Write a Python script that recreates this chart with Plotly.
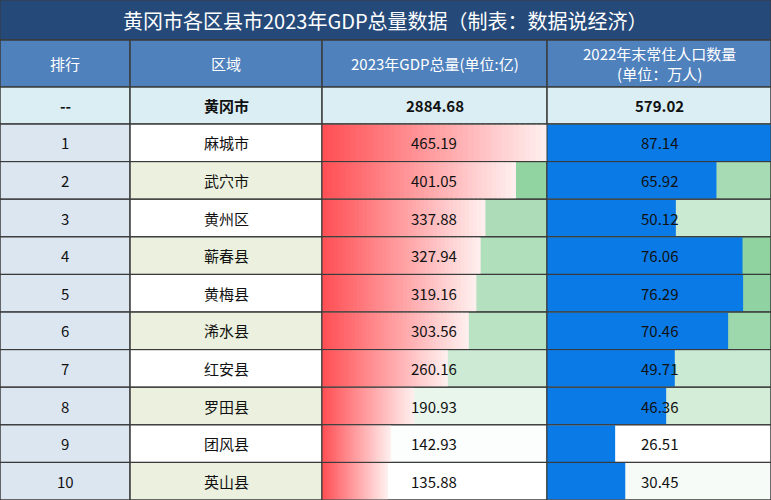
import plotly.graph_objects as go

title = "黄冈市各区县市2023年GDP总量数据（制表：数据说经济）"
headers = ["排行", "区域", "2023年GDP总量(单位:亿)", "2022年末常住人口数量<br>(单位：万人)"]
total = ["--", "黄冈市", "2884.68", "579.02"]
ranks = ["1", "2", "3", "4", "5", "6", "7", "8", "9", "10"]
regions = ["麻城市", "武穴市", "黄州区", "蕲春县", "黄梅县", "浠水县", "红安县", "罗田县", "团风县", "英山县"]
gdp = [465.19, 401.05, 337.88, 327.94, 319.16, 303.56, 260.16, 190.93, 142.93, 135.88]
pop = [87.14, 65.92, 50.12, 76.06, 76.29, 70.46, 49.71, 46.36, 26.51, 30.45]

cols = [0, 130, 322, 547, 771]
row_top = 124
row_h = (500 - 124) / 10
font = "Noto Sans CJK SC"
border = "#3a3a3a"

shapes = []
ann = []

def rect(x0, y0, x1, y1, fill, line=True):
    shapes.append(dict(type="rect", xref="x", yref="y", x0=x0, y0=y0, x1=x1, y1=y1,
                       fillcolor=fill, line=dict(color=border, width=1) if line else dict(width=0),
                       layer="below"))

def text(x, y, s, color="#111", size=15, bold=False):
    ann.append(dict(x=x, y=y, xref="x", yref="y", text=f"<b>{s}</b>" if bold else s,
                    showarrow=False, font=dict(family=font, size=size, color=color)))

def mix(c1, c2, t):
    t = max(0, min(1, t))
    return "rgb(%d,%d,%d)" % tuple(round(a + (b - a) * t) for a, b in zip(c1, c2))

white = (255, 255, 255)
green = (120, 200, 140)

# title
rect(0, 0, 771, 40, "#254a7a")
text(385, 20, title, color="white", size=20)
# header
for i in range(4):
    rect(cols[i], 40, cols[i + 1], 87, "#4f81bd")
    text((cols[i] + cols[i + 1]) / 2, 63.5, headers[i], color="white", size=15)
# total row
for i in range(4):
    rect(cols[i], 87, cols[i + 1], row_top, "#dbeef4")
    text((cols[i] + cols[i + 1]) / 2, 105.5, total[i], size=15, bold=True)

gk = (cols[3] - cols[2]) / max(gdp)
pk = (cols[4] - cols[3]) / max(pop)
gmin, gmax = min(gdp), max(gdp)
pmin, pmax = min(pop), max(pop)
nseg = 40
for r in range(10):
    y0 = row_top + r * row_h
    y1 = y0 + row_h
    ym = (y0 + y1) / 2
    rect(cols[0], y0, cols[1], y1, "#dce6f1")
    rect(cols[1], y0, cols[2], y1, "#ebf1de" if r % 2 else "white")
    rect(cols[2], y0, cols[3], y1, mix(white, green, (gdp[r] - gmin) / (gmax - gmin)))
    rect(cols[3], y0, cols[4], y1, mix(white, green, (pop[r] - pmin) / (pmax - pmin)))
    # gradient GDP bar
    w = gdp[r] * gk
    for s in range(nseg):
        x0 = cols[2] + w * s / nseg
        x1 = min(cols[2] + w * (s + 1) / nseg + 1.5, cols[2] + w)
        shapes.append(dict(type="rect", xref="x", yref="y", x0=x0, x1=x1,
                           y0=y0 + 0.5, y1=y1 - 0.5, layer="below", line=dict(width=0),
                           fillcolor=mix((255, 80, 85), (255, 238, 238), s / (nseg - 1))))
    shapes.append(dict(type="rect", xref="x", yref="y", x0=cols[3], x1=cols[3] + pop[r] * pk,
                       y0=y0 + 0.5, y1=y1 - 0.5, layer="below", line=dict(width=0),
                       fillcolor="#0a7ae6"))
    text(65, ym, ranks[r])
    text(226, ym, regions[r])
    text(434, ym, f"{gdp[r]:.2f}")
    text(659, ym, f"{pop[r]:.2f}")

# grid lines on top
for x in cols:
    shapes.append(dict(type="line", xref="x", yref="y", x0=x, x1=x, y0=40, y1=500,
                       line=dict(color=border, width=1)))
for y in [40, 87, row_top] + [row_top + i * row_h for i in range(1, 11)]:
    shapes.append(dict(type="line", xref="x", yref="y", x0=0, x1=771, y0=y, y1=y,
                       line=dict(color=border, width=1)))

fig = go.Figure()
fig.update_layout(
    width=771, height=500, margin=dict(l=0, r=0, t=0, b=0),
    xaxis=dict(range=[0, 771], visible=False, fixedrange=True),
    yaxis=dict(range=[500, 0], visible=False, fixedrange=True),
    plot_bgcolor="white", paper_bgcolor="white",
    shapes=shapes, annotations=ann, showlegend=False,
)
fig.write_html("out.html", config={"displayModeBar": False},
               post_script="document.body.style.margin='0';document.body.style.overflow='hidden';")
